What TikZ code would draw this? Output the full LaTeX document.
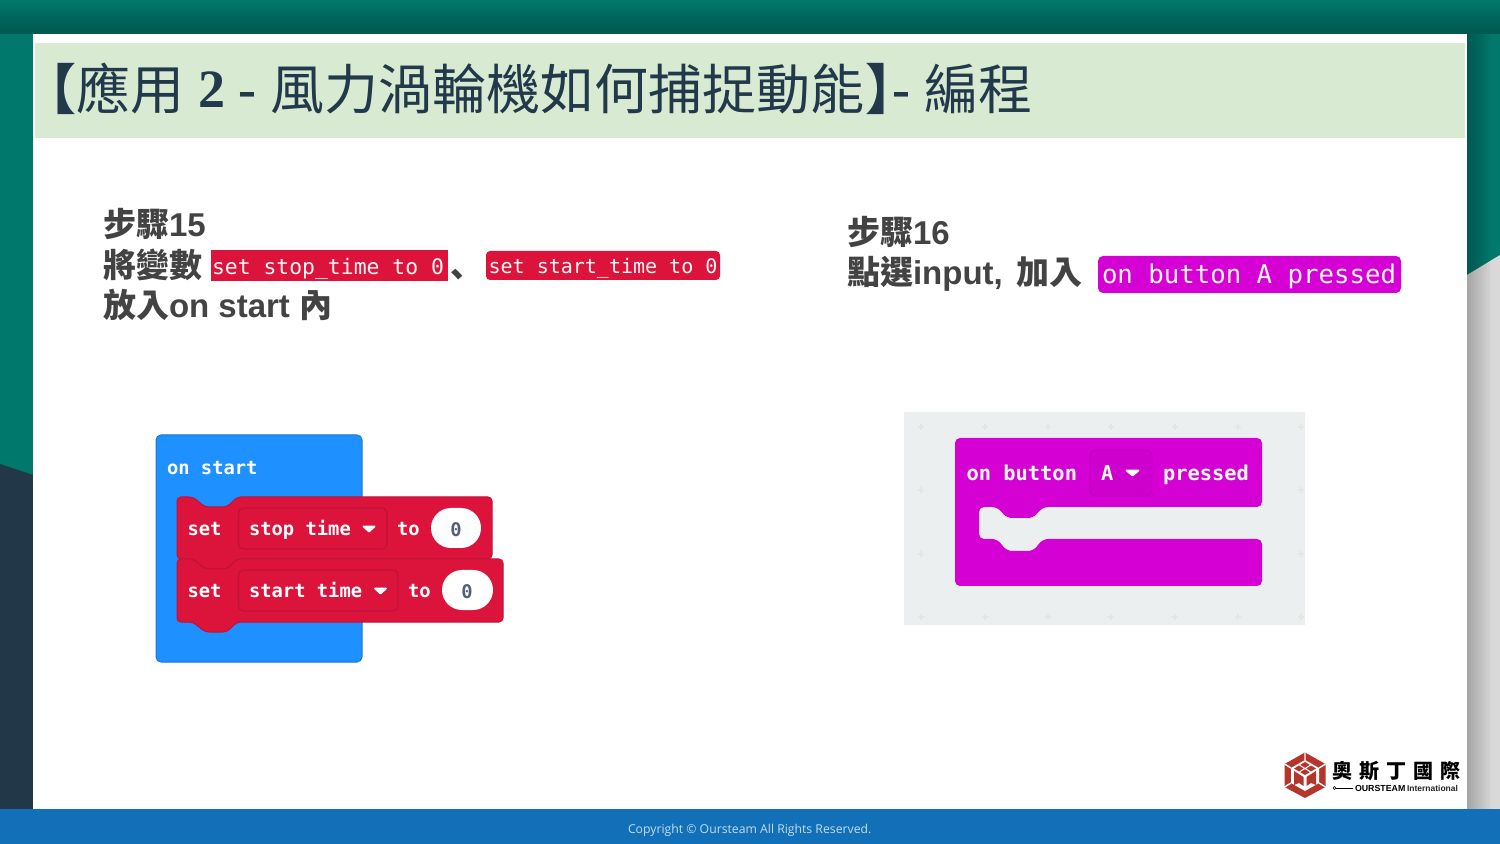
\documentclass[tikz,border=0pt]{standalone}
\usepackage{fontspec}
\setmainfont{Liberation Sans}
\setmonofont{DejaVu Sans Mono}
\newfontfamily\cjk{Noto Sans CJK TC}
\newfontfamily\cjksc{Noto Sans CJK SC}
\newfontfamily\titleser{Liberation Serif}
\newfontfamily\footfont{Open Sans}
\newcommand{\fsz}[1]{\fontsize{#1pt}{#1pt}\selectfont}
\definecolor{tealbg}{HTML}{00786C}
\definecolor{navybg}{HTML}{223748}
\definecolor{greybg}{HTML}{D9D9D9}
\definecolor{footbar}{HTML}{1170B7}
\definecolor{titlebg}{HTML}{D9EAD3}
\definecolor{titleink}{HTML}{21394A}
\definecolor{ink}{HTML}{434343}
\definecolor{blockred}{HTML}{DC143C}
\definecolor{reddark}{HTML}{BE1238}
\definecolor{blockblue}{HTML}{1E90FF}
\definecolor{bluedark}{HTML}{1B78CF}
\definecolor{blockmag}{HTML}{D400D4}
\definecolor{magdark}{HTML}{BE00BE}
\definecolor{gridbg}{HTML}{ECEFF0}
\definecolor{zeroink}{HTML}{575E75}
\definecolor{logored}{HTML}{B5352A}
\tikzset{
  txt/.style={inner sep=0pt,outer sep=0pt,anchor=base west},
  titletxt/.style={txt,text=titleink,font=\cjk\fsz{27}},
  steptxt/.style={txt,text=ink,font=\cjk\bfseries\fsz{16.5}},
  blocktxt/.style={inner sep=0pt,outer sep=0pt,anchor=base west,text=white,font=\ttfamily\bfseries\fsz{9.4}},
  chiptxt/.style={inner sep=0pt,outer sep=0pt,anchor=base,text=white!88!pink,font=\ttfamily},
  redblk/.style={fill=blockred,draw=reddark,line width=.5pt,rounded corners=2pt},
  field/.style={draw=reddark,line width=.6pt,rounded corners=2.5pt},
  pill/.style={fill=white,rounded corners=10pt},
  tri/.style={fill=white,draw=white,line width=.9pt,line join=round},
}
\begin{document}
\begin{tikzpicture}[x=0.5pt,y=-0.5pt]
\useasboundingbox (0,0) rectangle (1500,844);
% background
\fill[tealbg] (0,0) rectangle (1500,844);
\fill[navybg] (0,464) -- (33,475) -- (33,844) -- (0,844) -- cycle;
\fill[greybg] (1467,275) -- (1500,255) -- (1500,844) -- (1467,844) -- cycle;
% soft shadows round the card
\foreach \i in {0,...,11}{
  \fill[black,opacity=.018] (1467,34) rectangle ({1467+2*\i+2},844);
  \fill[black,opacity=.018] (0,{34-2.6*\i-2.6}) rectangle (1500,34);
}
% card
\fill[white] (33,34) rectangle (1467,809);
\fill[titlebg] (35,43) rectangle (1465,138);
\fill[footbar] (0,809) rectangle (1500,844);
% title
\node[titletxt,font=\cjk\bfseries\fsz{27}] (t1) at (22,110) {【};
\node[titletxt] (t2) at (76,110) {應用};
\node[txt,text=titleink,font=\titleser\bfseries\fsz{27}] (t3) at (198,108) {2};
\node[txt,text=titleink,font=\titleser\bfseries\fsz{27}] (t4) at (238,108) {-};
\node[titletxt] (t5) at (270,110) {風力渦輪機如何捕捉動能};
\node[titletxt,font=\cjk\bfseries\fsz{27}] (t6) at (865,110) {】};
\node[txt,text=titleink,font=\titleser\bfseries\fsz{27}] (t7) at (892,108) {-};
\node[titletxt] (t8) at (924,110) {編程};
% step 15
\node[steptxt] (a1) at (103,237) {步驟\fontspec{Liberation Sans}\bfseries 15};
\node[steptxt] (a2) at (103,277.5) {將變數};
\node[steptxt,font=\cjksc\bfseries\fsz{16.5}] (a3) at (450,277.5) {、};
\node[steptxt] (a4) at (103,317.5) {放入\fontspec{Liberation Sans}\bfseries on start};
\node[steptxt] (a5) at (299,317.5) {內};
\fill[blockred] (211,250) rectangle (448,281);
\fill[blockred,rounded corners=2pt] (486,251) rectangle (720,280);
\node[chiptxt,font=\ttfamily\fsz{10.7}] (c1) at (328,274.5) {set stop\_time to 0};
\node[chiptxt,font=\ttfamily\fsz{10}] (c2) at (603,273.5) {set start\_time to 0};
% step 16
\node[steptxt] (b1) at (847,245) {步驟\fontspec{Liberation Sans}\bfseries 16};
\node[steptxt] (b2) at (847,285) {點選\fontspec{Liberation Sans}\bfseries input,};
\node[steptxt] (b3) at (1016,285) {加入};
\fill[blockmag,rounded corners=2.5pt] (1098,256) rectangle (1401,293);
\node[chiptxt,font=\ttfamily\fsz{12.85}] (c3) at (1249,284) {on button A pressed};
% left program
\filldraw[fill=blockblue,draw=bluedark,line width=.5pt,rounded corners=2.5pt] (156,435) rectangle (362,662);
\node[blocktxt] (s0) at (167,474.5) {on start};
\path[redblk] (177,497) -- (193,497) -- (205,507) -- (227,507) -- (237,497) -- (492,497) -- (492,559) -- (237,559) -- (227,569) -- (205,569) -- (193,559) -- (177,559) -- cycle;
\path[redblk] (177,559) -- (193,559) -- (205,569) -- (227,569) -- (237,559) -- (503,559) -- (503,622) -- (237,622) -- (227,632) -- (205,632) -- (193,622) -- (177,622) -- cycle;
\node[blocktxt] (s1) at (187.5,536) {set};
\draw[field] (238.5,508) rectangle (387,549);
\node[blocktxt] (s2) at (249,536) {stop time};
\path[tri] (363.5,526.5) -- (374.5,526.5) -- (369,531.5) -- cycle;
\node[blocktxt] (s3) at (397,536) {to};
\fill[pill] (431,508) rectangle (481,548);
\node[inner sep=0pt,text=zeroink,font=\ttfamily\bfseries\fsz{9.4}] (s4) at (456,529.5) {0};
\node[blocktxt] (s5) at (187.5,597.5) {set};
\draw[field] (238.5,570) rectangle (398,611);
\node[blocktxt] (s6) at (249,597.5) {start time};
\path[tri] (375,588.5) -- (386,588.5) -- (380.5,593.5) -- cycle;
\node[blocktxt] (s7) at (408,597.5) {to};
\fill[pill] (442,570) rectangle (493,610);
\node[inner sep=0pt,text=zeroink,font=\ttfamily\bfseries\fsz{9.4}] (s8) at (467,591.5) {0};
% right program
\fill[gridbg] (904,412) rectangle (1305,625);
\foreach \gx in {921,985,1048,1111,1175,1238,1301}
  \foreach \gy in {427,490,554,617}
    \draw[black!10,line width=.6pt] (\gx-3,\gy) -- (\gx+3,\gy) (\gx,\gy-3) -- (\gx,\gy+3);
\fill[blockmag,rounded corners=2.5pt] (955,438) -- (1262,438) -- (1262,507) -- (1043,507) -- (1033,518) -- (1007,518) -- (997,507) -- (979,507) -- (979,539) -- (997,539) -- (1007,551) -- (1033,551) -- (1043,539) -- (1262,539) -- (1262,586) -- (955,586) -- cycle;
\node[blocktxt,font=\ttfamily\bfseries\fsz{10.2},text=white!90!pink] (m1) at (966.5,481) {on button};
\filldraw[fill=blockmag!97!black,draw=magdark,line width=.4pt,rounded corners=2.5pt] (1090,450) rectangle (1152,496);
\node[blocktxt,font=\ttfamily\bfseries\fsz{10.2},text=white!90!pink] (m2) at (1101,481) {A};
\path[tri] (1126.5,470.5) -- (1138.5,470.5) -- (1132.5,475.5) -- cycle;
\node[blocktxt,font=\ttfamily\bfseries\fsz{10.2},text=white!90!pink] (m3) at (1163,481) {pressed};
% logo
\fill[logored] (1305,752.5) -- (1325.5,764) -- (1325.5,787) -- (1305,798) -- (1284.5,787) -- (1284.5,764) -- cycle;
\fill[white] (1305,760) -- (1319,768) -- (1319,783) -- (1305,791) -- (1291,783) -- (1291,768) -- cycle;
\draw[white,line width=.7pt] (1305,752.5) -- (1305,760) (1325.5,764) -- (1319,768) (1325.5,787) -- (1319,783) (1284.5,787) -- (1291,783) (1284.5,764) -- (1291,768);
\fill[logored] (1305,762) -- (1316,768.5) -- (1305,775) -- (1294,768.5) -- cycle;
\draw[white,line width=.5pt] (1299.5,765.2) -- (1310.5,771.8) (1310.5,765.2) -- (1299.5,771.8);
\fill[logored] (1294,771) -- (1303.5,777) -- (1303.5,786) -- (1299,783) -- (1294,785) -- cycle;
\fill[logored] (1316,771) -- (1306.5,777) -- (1306.5,786) -- (1311,783) -- (1316,785) -- cycle;
\node[txt,text=black,font=\cjk\bfseries\fsz{10}] (l1) at (1332.5,778) {奧\hspace{3.5pt}斯\hspace{3.5pt}丁\hspace{3.5pt}國\hspace{3.5pt}際};
\draw[black,line width=.3pt] (1334.5,788) circle (1.5);
\coordinate (lineend) at (1353,788);
\draw[black,line width=.4pt] (1336,788) -- (lineend);
\node[txt,text=black,font=\bfseries\fsz{4.4}] (l2) at (1355,791) {OURSTEAM};
\node[txt,text=black!85,font=\bfseries\fsz{4.25}] (l3) at (1407,791) {International};
% footer
\node[txt,text=white!75!footbar,font=\footfont\fsz{6.12}] (f) at (628,833) {Copyright © Oursteam All Rights Reserved.};
\end{tikzpicture}
\end{document}
